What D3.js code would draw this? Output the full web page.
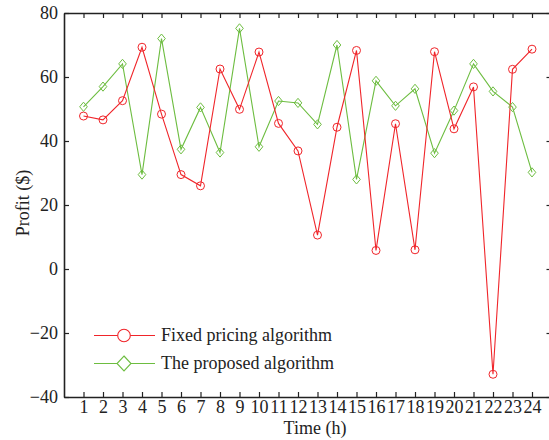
<!DOCTYPE html>
<html>
<head>
<meta charset="utf-8">
<script src="https://cdn.jsdelivr.net/npm/d3@7/dist/d3.min.js"></script>
<style>
  html, body { margin: 0; padding: 0; background: #fff; }
  svg { display: block; }
</style>
</head>
<body>
<svg id="chart" width="549" height="440"></svg>
<script>
// Hourly profit of the two pricing schemes
const hours = d3.range(1, 25);
const fixedProfit = [47.8, 46.6, 52.6, 69.3, 48.4, 29.5, 26.0, 62.5, 49.9, 67.8, 45.5, 36.9,
                     10.6, 44.3, 68.3, 5.8, 45.4, 6.0, 67.9, 43.8, 56.9, -32.9, 62.4, 68.7];
const proposedProfit = [50.7, 57.0, 64.1, 29.5, 72.0, 37.4, 50.5, 36.4, 75.2, 38.2, 52.5, 51.9,
                        45.2, 70.0, 28.0, 58.8, 51.0, 56.3, 36.2, 49.5, 64.1, 55.5, 50.6, 30.2];
const yTicks = [-40, -20, 0, 20, 40, 60, 80];
const seriesNames = ["Fixed pricing algorithm", "The proposed algorithm"];

const FONT = "'Liberation Serif', 'Times New Roman', 'DejaVu Serif', serif";
const FS = 18;
const INK = "#222";

const svg = d3.select("#chart");
const plotLeft = 64, plotRight = 551.5, plotTop = 13, plotBottom = 397;

const x = d3.scaleLinear().domain([0, 25]).range([plotLeft, plotRight]);
const y = d3.scaleLinear().domain([-40, 80]).range([plotBottom, plotTop]);

const red = "#f0252a", green = "#6dbd40";

// frame with inward ticks on all four sides
const tickLen = 5;
const fmt = d => d < 0 ? "\u2212" + Math.abs(d) : String(d);

const gb = svg.append("g").attr("transform", `translate(0,${plotBottom})`)
  .call(d3.axisBottom(x).tickValues(hours).tickSizeInner(-tickLen).tickSizeOuter(0).tickPadding(3));
const gt = svg.append("g").attr("transform", `translate(0,${plotTop})`)
  .call(d3.axisTop(x).tickValues(hours).tickSizeInner(-tickLen).tickSizeOuter(0).tickFormat(""));
const gl = svg.append("g").attr("transform", `translate(${plotLeft},0)`)
  .call(d3.axisLeft(y).tickValues(yTicks).tickSizeInner(-tickLen).tickSizeOuter(0).tickPadding(6).tickFormat(fmt));
const gr = svg.append("g").attr("transform", `translate(${plotRight},0)`)
  .call(d3.axisRight(y).tickValues(yTicks).tickSizeInner(-tickLen).tickSizeOuter(0).tickFormat(""));

[gb, gt, gl, gr].forEach(g => {
  g.attr("font-family", FONT).attr("font-size", FS);
  g.select(".domain").attr("stroke", INK).attr("stroke-width", 1.6);
  g.selectAll(".tick line").attr("stroke", INK).attr("stroke-width", 1.2);
  g.selectAll(".tick text").attr("fill", INK);
});
gb.selectAll(".tick text").attr("dy", "0.71em");

// axis titles
svg.append("text").attr("x", 315).attr("y", 434).attr("text-anchor", "middle")
  .attr("font-family", FONT).attr("font-size", FS).attr("fill", INK).text("Time (h)");
svg.append("text").attr("transform", `translate(28.5,203) rotate(-90)`)
  .attr("text-anchor", "middle").attr("font-family", FONT).attr("font-size", FS)
  .attr("fill", INK).text("Profit ($)");

// series
const line = d3.line().x((d, i) => x(hours[i])).y(d => y(d));
const diamond = (cx, cy, w, h) => `M${cx},${cy - h}L${cx + w},${cy}L${cx},${cy + h}L${cx - w},${cy}Z`;

svg.append("path").datum(proposedProfit).attr("d", line)
  .attr("fill", "none").attr("stroke", green).attr("stroke-width", 1.1);
svg.append("path").datum(fixedProfit).attr("d", line)
  .attr("fill", "none").attr("stroke", red).attr("stroke-width", 1.1);

svg.append("g").selectAll("path").data(proposedProfit).join("path")
  .attr("d", (d, i) => diamond(x(hours[i]), y(d), 3.8, 4.6))
  .attr("fill", "none").attr("stroke", green).attr("stroke-width", 1);
svg.append("g").selectAll("circle").data(fixedProfit).join("circle")
  .attr("cx", (d, i) => x(hours[i])).attr("cy", d => y(d)).attr("r", 4)
  .attr("fill", "none").attr("stroke", red).attr("stroke-width", 1);

// legend
const lg = svg.append("g");
const rows = [
  { name: seriesNames[0], color: red, yy: 335.5, mark: "circle" },
  { name: seriesNames[1], color: green, yy: 363.5, mark: "diamond" }
];
rows.forEach(r => {
  lg.append("line").attr("x1", 94).attr("x2", 155).attr("y1", r.yy).attr("y2", r.yy)
    .attr("stroke", r.color).attr("stroke-width", 1.1);
  if (r.mark === "circle") {
    lg.append("circle").attr("cx", 124).attr("cy", r.yy).attr("r", 6.3)
      .attr("fill", "#fff").attr("stroke", r.color).attr("stroke-width", 1.1);
  } else {
    lg.append("path").attr("d", diamond(124, r.yy, 7, 7.5))
      .attr("fill", "#fff").attr("stroke", r.color).attr("stroke-width", 1.1);
  }
  lg.append("text").attr("x", 161).attr("y", r.yy + 5.5)
    .attr("font-family", FONT).attr("font-size", FS).attr("fill", INK).text(r.name);
});
</script>
</body>
</html>
